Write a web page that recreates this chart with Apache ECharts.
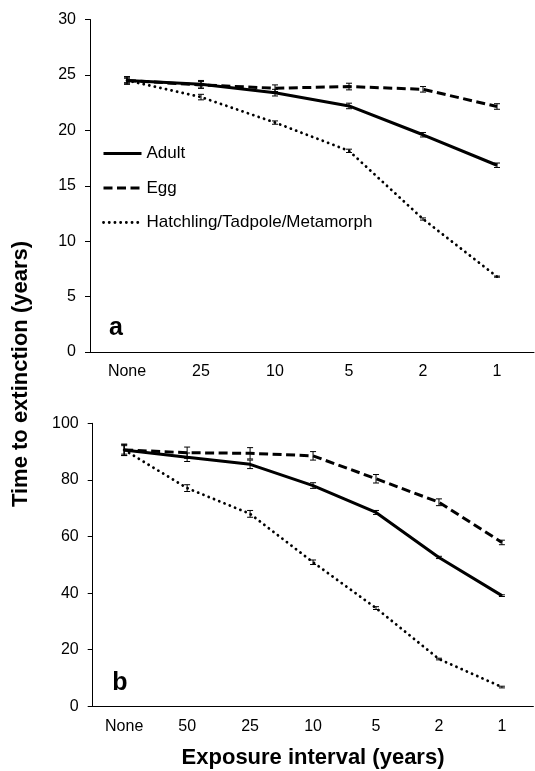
<!DOCTYPE html>
<html><head><meta charset="utf-8">
<script src="https://cdn.jsdelivr.net/npm/echarts@6/dist/echarts.min.js"></script>
<style>html,body{margin:0;padding:0;background:#fff}#c{width:535px;height:771px}</style>
</head><body><div id="c"></div>
<script>
// Panel a data
const catsA = ['None','25','10','5','2','1'];
const adultA = [24.5,24.15,23.4,22.2,19.6,16.85];
const eggA   = [24.5,24.1,23.8,23.95,23.7,22.15];
const hatchA = [24.5,23.0,20.7,18.15,12.0,6.8];
const adultAErr = [0.35,0.35,0.3,0.25,0.2,0.2];
const eggAErr   = [0.3,0.3,0.3,0.3,0.25,0.25];
const hatchAErr = [0.2,0.25,0.15,0.15,0.1,0.05];
// Panel b data
const catsB = ['None','50','25','10','5','2','1'];
const adultB = [90.6,88.0,85.5,78.0,68.5,52.6,39.1];
const eggB   = [90.6,89.6,89.4,88.5,80.4,72.1,57.9];
const hatchB = [90.6,77.1,68.0,50.9,34.7,16.7,6.8];
const adultBErr = [2,1.5,1.5,1,0.7,0.4,0.3];
const eggBErr   = [2,2,2,1.5,1.5,1.2,0.8];
const hatchBErr = [1.5,1.2,1.2,0.8,0.5,0.3,0.3];
const yTicksA = {min:0,max:30,interval:5};
const yTicksB = {min:0,max:100,interval:20};

const FONT = 'Liberation Sans, Arial, sans-serif';
const names = ['Adult','Egg','Hatchling/Tadpole/Metamorph'];
const styles = [
  {type:'solid', width:3},
  {type:[9,4.5], width:3},
  {type:[0.1,5.6], width:2.8, cap:'round'}
];

function errData(vals, errs){ return vals.map((v,i)=>[i, v-errs[i], v+errs[i]]); }
function renderErr(params, api){
  const i = api.value(0);
  const lo = api.coord([i, api.value(1)]);
  const hi = api.coord([i, api.value(2)]);
  const w = 3;
  const st = {stroke:'#000', lineWidth:1};
  return {type:'group', children:[
    {type:'line', shape:{x1:lo[0],y1:lo[1],x2:hi[0],y2:hi[1]}, style:st},
    {type:'line', shape:{x1:lo[0]-w,y1:lo[1],x2:lo[0]+w,y2:lo[1]}, style:st},
    {type:'line', shape:{x1:hi[0]-w,y1:hi[1],x2:hi[0]+w,y2:hi[1]}, style:st}
  ]};
}

const axisLine = {lineStyle:{color:'#000', width:1}};
const axisTick = {length:5, lineStyle:{color:'#000', width:1}};

function lineSeries(name, data, k, gi){
  return {name: gi===0 ? name : name+' ', type:'line', xAxisIndex:gi, yAxisIndex:gi, data:data,
    symbol:'none', lineStyle:Object.assign({color:'#000'}, styles[k]), itemStyle:{color:'#000'},
    z:2, animation:false};
}
function errSeries(vals, errs, gi){
  return {type:'custom', xAxisIndex:gi, yAxisIndex:gi, data:errData(vals, errs),
    encode:{x:0, y:[1,2]}, renderItem:renderErr, z:3, silent:true, animation:false};
}

const chart = echarts.init(document.getElementById('c'), null, {renderer:'canvas'});
chart.setOption({
  animation:false,
  textStyle:{fontFamily:FONT, color:'#000'},
  grid:[
    {left:90, right:1, top:19.5, bottom:419},
    {left:92.7, right:1.6, top:423.3, bottom:64.7}
  ],
  xAxis:[
    {type:'category', gridIndex:0, data:catsA, boundaryGap:true, axisLine, axisTick,
     axisLabel:{fontSize:16, color:'#000', margin:12, fontFamily:FONT}},
    {type:'category', gridIndex:1, data:catsB, boundaryGap:true, axisLine, axisTick,
     axisLabel:{fontSize:16, color:'#000', margin:12, fontFamily:FONT},
     name:'Exposure interval (years)', nameLocation:'middle', nameGap:41,
     nameTextStyle:{fontSize:22, fontWeight:'bold', color:'#000', fontFamily:FONT}}
  ],
  yAxis:[
    Object.assign({type:'value', gridIndex:0, axisLine:Object.assign({show:true},axisLine), axisTick:Object.assign({show:true},axisTick),
     splitLine:{show:false}, axisLabel:{fontSize:16, color:'#000', margin:14, fontFamily:FONT}}, yTicksA),
    Object.assign({type:'value', gridIndex:1, axisLine:Object.assign({show:true},axisLine), axisTick:Object.assign({show:true},axisTick),
     splitLine:{show:false}, axisLabel:{fontSize:16, color:'#000', margin:14, fontFamily:FONT}}, yTicksB)
  ],
  legend:{
    data:[
      {name:names[0], lineStyle:{width:3, type:'solid'}},
      {name:names[1], lineStyle:{width:3, type:[9,4.5]}},
      {name:names[2], lineStyle:{width:2.8, type:[0.1,5.6], cap:'round'}}
    ],
    orient:'vertical', left:102, top:145, padding:0, itemWidth:38, itemHeight:12, itemGap:17.5,
    textStyle:{fontSize:17, color:'#000', fontFamily:FONT},
    itemStyle:{opacity:0, color:'rgba(0,0,0,0)', borderWidth:0},
    selectedMode:false
  },
  graphic:[
    {type:'text', x:21, y:374, rotation:Math.PI/2,
     style:{text:'Time to extinction (years)', font:'bold 22px '+FONT, fill:'#000', textAlign:'center', textVerticalAlign:'middle'}},
    {type:'text', x:116, y:328,
     style:{text:'a', font:'bold 25px '+FONT, fill:'#000', textAlign:'center', textVerticalAlign:'middle'}},
    {type:'text', x:120, y:683,
     style:{text:'b', font:'bold 25px '+FONT, fill:'#000', textAlign:'center', textVerticalAlign:'middle'}}
  ],
  series:[
    lineSeries(names[0], adultA, 0, 0),
    lineSeries(names[1], eggA, 1, 0),
    lineSeries(names[2], hatchA, 2, 0),
    lineSeries(names[0], adultB, 0, 1),
    lineSeries(names[1], eggB, 1, 1),
    lineSeries(names[2], hatchB, 2, 1),
    errSeries(adultA, adultAErr, 0), errSeries(eggA, eggAErr, 0), errSeries(hatchA, hatchAErr, 0),
    errSeries(adultB, adultBErr, 1), errSeries(eggB, eggBErr, 1), errSeries(hatchB, hatchBErr, 1)
  ]
});
</script></body></html>
